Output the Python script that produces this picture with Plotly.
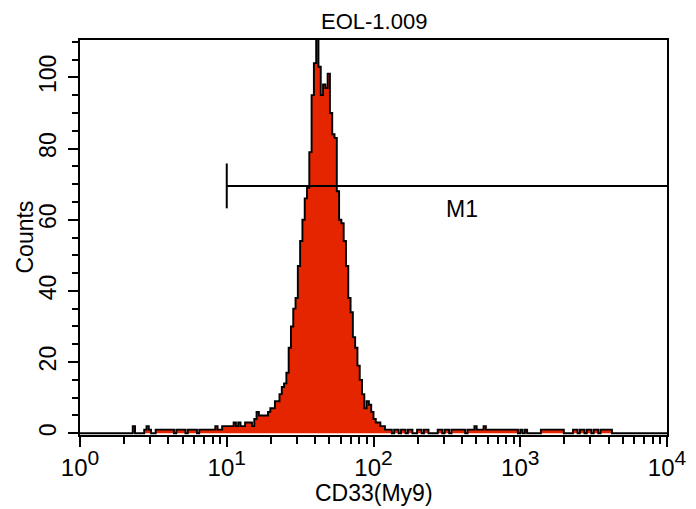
import numpy as np
import plotly.graph_objects as go

# ---- data (256-channel log histogram, 4 decades) ----
counts = [
    0, 0, 0, 0, 0, 0, 0, 0, 0, 0, 0, 0, 0, 0, 0, 0,
    0, 0, 0, 0, 0, 0, 0, 2, 0, 0, 0, 0, 1, 2, 1, 0,
    0, 1, 1, 1, 1, 1, 1, 1, 1, 0, 1, 1, 1, 1, 0, 1,
    1, 1, 1, 0, 1, 1, 1, 1, 1, 1, 1, 2, 1, 1, 2, 2,
    2, 2, 2, 3, 2, 3, 2, 2, 3, 3, 3, 2, 4, 6, 5, 5,
    5, 5, 6, 7, 7, 9, 9, 11, 13, 14, 17, 24, 30, 35, 38, 47,
    54, 60, 66, 69, 79, 95, 104, 118, 103, 95, 98, 97, 101, 90, 84, 83,
    68, 60, 59, 54, 47, 38, 34, 27, 24, 19, 15, 11, 7, 9, 8, 6,
    4, 3, 3, 2, 2, 1, 1, 1, 0, 1, 1, 0, 1, 1, 0, 1,
    1, 0, 0, 1, 1, 0, 1, 1, 0, 0, 0, 0, 1, 1, 0, 1,
    1, 0, 1, 1, 1, 1, 1, 1, 0, 1, 1, 1, 2, 1, 1, 1,
    2, 1, 1, 1, 1, 1, 1, 1, 1, 1, 1, 1, 1, 1, 1, 0,
    1, 0, 1, 0, 0, 0, 0, 0, 0, 1, 1, 1, 1, 1, 1, 1,
    1, 1, 1, 0, 0, 0, 0, 1, 1, 0, 1, 1, 0, 1, 1, 0,
    1, 1, 0, 1, 1, 1, 1, 1, 0, 0, 0, 0, 0, 0, 0, 0,
    0, 0, 0, 0, 0, 0, 0, 0, 0, 0, 0, 0, 0, 0, 0, 0,
]
channels_per_decade = 64
decades = 4

title_text = "EOL-1.009"
x_title = "CD33(My9)"
y_title = "Counts"
x_tick_values = [1, 10, 100, 1000, 10000]
x_tick_exponents = ["0", "1", "2", "3", "4"]
y_tick_values = [0, 20, 40, 60, 80, 100]

m1_name = "M1"
m1_range = [10, 10000]
m1_level = 69.5
m1_tick_span = [63.2, 75.8]
m1_label_x = 400
m1_label_y = 63

# ---- build ----
n = len(counts)
edges = 10 ** (np.arange(n + 1) / channels_per_decade)
xs = list(edges)
ys = list(counts) + [counts[-1]]

FONT = "Liberation Sans, Arial, Helvetica, sans-serif"
RED = "rgb(229,36,0)"

x_tick_labels = [
    "10<sup><span style='font-size:21px'>%s</span></sup>" % e for e in x_tick_exponents
]

fig = go.Figure()
fig.add_trace(go.Scatter(
    x=xs, y=ys, mode="lines", line_shape="hv",
    line=dict(color="black", width=1.9),
    fill="tozeroy", fillcolor=RED, showlegend=False, hoverinfo="skip",
))
fig.add_trace(go.Scatter(
    x=m1_range, y=[m1_level, m1_level], mode="lines",
    line=dict(color="black", width=2), showlegend=False, cliponaxis=False,
))
fig.add_trace(go.Scatter(
    x=[m1_range[0], m1_range[0]], y=m1_tick_span, mode="lines",
    line=dict(color="black", width=2), showlegend=False, cliponaxis=False,
))
fig.add_annotation(
    x=np.log10(m1_label_x), y=m1_label_y, xref="x", yref="y",
    text=m1_name, showarrow=False, font=dict(family=FONT, size=23, color="black"),
)
# titles as annotations for precise placement
fig.add_annotation(
    x=0.5, y=1, xref="paper", yref="paper", yshift=19,
    text=title_text, showarrow=False, xanchor="center", yanchor="middle",
    font=dict(family=FONT, size=22, color="black"),
)
fig.add_annotation(
    x=0.5, y=0, xref="paper", yref="paper", yshift=-58,
    text=x_title, showarrow=False, xanchor="center", yanchor="middle",
    font=dict(family=FONT, size=23, color="black"),
)
fig.add_annotation(
    x=0, y=0.5, xref="paper", yref="paper", xshift=-56,
    text=y_title, showarrow=False, xanchor="center", yanchor="middle",
    textangle=-90, font=dict(family=FONT, size=23, color="black"),
)

x_minor = [m * 10 ** d for d in range(decades) for m in range(2, 10)]

fig.update_layout(
    width=696, height=509,
    margin=dict(l=72, r=37, t=32, b=82),
    paper_bgcolor="white", plot_bgcolor="white",
    font=dict(family=FONT, size=18, color="black"),
    showlegend=False,
)
fig.update_xaxes(
    type="log", range=[0, decades], automargin=False,
    tickmode="array", tickvals=x_tick_values, ticktext=x_tick_labels,
    ticks="outside", ticklen=10, tickwidth=1.5, tickcolor="black",
    tickfont=dict(family=FONT, size=24, color="black"),
    minor=dict(tickmode="array", tickvals=x_minor, ticks="outside",
               ticklen=7, tickwidth=1.5, tickcolor="black", showgrid=False),
    showline=True, linecolor="black", linewidth=1.5, mirror=True,
    showgrid=False, zeroline=False,
)
fig.update_yaxes(
    range=[-0.5, 110.5], automargin=False,
    tickmode="array", tickvals=y_tick_values,
    ticks="outside", ticklen=10, tickwidth=1.5, tickcolor="black",
    tickangle=-90, ticklabelstandoff=3,
    tickfont=dict(family=FONT, size=23, color="black"),
    minor=dict(dtick=5, tick0=0, ticks="outside", ticklen=6, tickwidth=1.5,
               tickcolor="black", showgrid=False),
    showline=True, linecolor="black", linewidth=1.5, mirror=True,
    showgrid=False, zeroline=False,
)

fig.write_html("out.html")
